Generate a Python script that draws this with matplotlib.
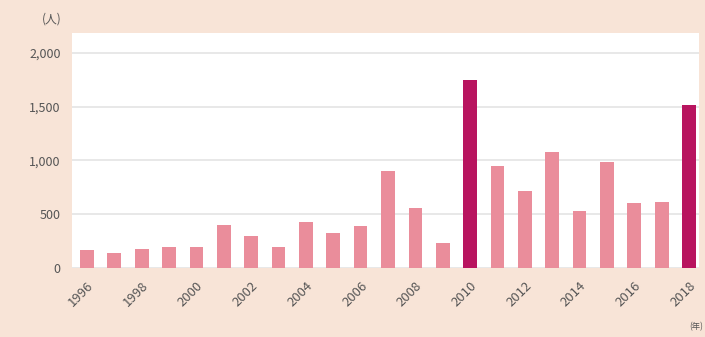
import matplotlib
matplotlib.use('Agg')
import matplotlib.pyplot as plt
import numpy as np

plt.rcParams['font.family'] = ['Noto Sans CJK JP', 'DejaVu Sans']

# 年ごとの人数
years = list(range(1996, 2019))
values = [167, 140, 177, 195, 192, 400, 298, 195, 428, 326, 391, 902,
          558, 233, 1749, 949, 716, 1079, 530, 986, 605, 614, 1516]
highlight = [2010, 2018]
tick_years = list(range(1996, 2019, 2))
yticks = [0, 500, 1000, 1500, 2000]

bg = '#f8e4d7'
light = '#ea8d9b'
dark = '#b8145f'

fig = plt.figure(figsize=(7.05, 3.37), dpi=100, facecolor=bg)
ax = fig.add_axes([0.102, 0.205, 0.889, 0.697])
ax.set_facecolor('white')

x = np.arange(len(years))
colors = [dark if y in highlight else light for y in years]
ax.bar(x, values, 0.5, color=colors, zorder=3)

ax.set_ylim(0, 2185)
ax.set_xlim(-0.55, 22.35)
ax.set_yticks(yticks)
ax.set_yticklabels(['{:,}'.format(v) for v in yticks], fontsize=9, color='#555555')
ax.yaxis.grid(True, color='#e4e4e4', linewidth=1.2, zorder=0)

tick_pos = [years.index(y) for y in tick_years]
ax.set_xticks(tick_pos)
ax.set_xticklabels([str(y) for y in tick_years], rotation=45, ha='right',
                   rotation_mode='anchor', fontsize=9.5, color='#555555')
ax.tick_params(axis='x', length=0, pad=8)
ax.tick_params(axis='y', length=0, pad=8)

for s in ax.spines.values():
    s.set_visible(False)

fig.text(0.06, 0.945, '(人)', fontsize=8.5, color='#555555', ha='left', va='center')
fig.text(0.978, 0.03, '(年)', fontsize=6, color='#555555', ha='left', va='center')

fig.savefig('out.png', dpi=100, facecolor=bg)
